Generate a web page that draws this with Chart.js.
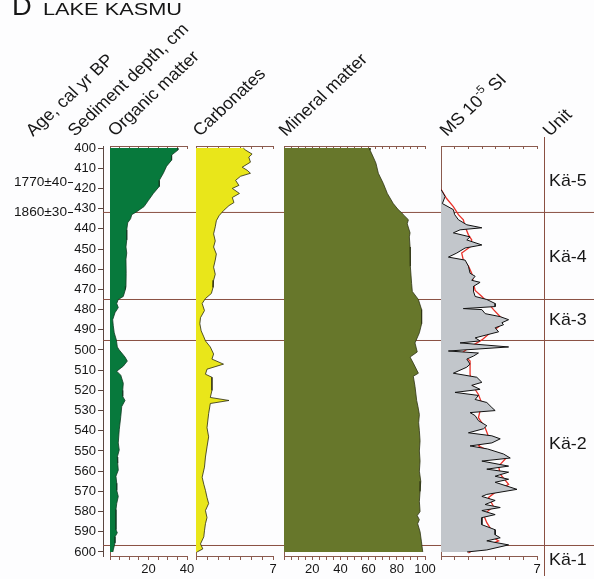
<!DOCTYPE html>
<html>
<head>
<meta charset="utf-8">
<script src="https://cdn.jsdelivr.net/npm/chart.js@4/dist/chart.umd.min.js"></script>
<style>
  html, body { margin: 0; padding: 0; background: #fdfdfe; }
  #wrap { position: relative; width: 594px; height: 579px; overflow: hidden; background: #fdfdfe; }
  #wrap canvas { position: absolute; top: 0; }
</style>
</head>
<body>
<div id="wrap">
  <canvas id="base" width="594" height="579" style="left:0"></canvas>
  <canvas id="pOrganic"></canvas>
  <canvas id="pCarbonate"></canvas>
  <canvas id="pMineral"></canvas>
  <canvas id="pMS"></canvas>
</div>
<script>
// ---- Lake Kasmu core: depth profiles (cm) ----
const depthTicks = [400, 410, 420, 430, 440, 450, 460, 470, 480, 490, 500,
                    510, 520, 530, 540, 550, 560, 570, 580, 590, 600];

const unitNames      = ['Kä-5', 'Kä-4', 'Kä-3', 'Kä-2', 'Kä-1'];
const unitMidDepths  = [416, 453.5, 485, 546, 603.5];
const unitBoundaries = [431.9, 475, 495.3, 596.8];

const ageLabels = ['1770±40', '1860±30'];
const ageDepths = [417, 431.5];

// Organic matter, %
const organicDepth = [400, 401, 403.5, 406, 409, 412.5, 416, 419, 422.5, 426, 429, 431.5, 433, 435, 437,
  440.5, 445.5, 449, 452, 455, 462, 468.5, 470, 473.5, 475, 477, 479, 481.5, 485, 488, 491.5, 495,
  498.5, 500, 501.5, 503.5, 505.5, 508, 510.5, 512.5, 516.5, 520, 523, 525, 528, 533, 539.5, 546,
  549.5, 553, 556, 559.5, 562.5, 566, 569.5, 572.5, 576, 579, 586, 589, 590.5, 592.5, 595.5, 599, 600];
const organicPct = [35, 35.3, 32, 32, 29.4, 27.7, 25.6, 25.6, 22.5, 19.9, 17.7, 13.9, 11.3, 10.7, 9.2,
  8.7, 8.7, 8.3, 8.7, 8.3, 8.4, 8.3, 8.0, 6.9, 4.3, 3.5, 4.3, 2.6, 1.4, 1.7, 2.2, 3.3,
  3.8, 4.8, 6.1, 7.8, 9.0, 6.9, 3.5, 5.6, 6.9, 6.6, 6.6, 7.8, 6.1, 5.6, 4.8, 4.3,
  4.8, 3.8, 4.0, 4.3, 3.1, 3.5, 3.5, 4.3, 3.5, 3.1, 3.1, 3.1, 3.8, 2.6, 2.6, 1.7, 1.5];

// Carbonates, %
const carbDepth = [400, 401, 403, 404.5, 407, 409.5, 411, 412.5, 414, 416, 418.5, 420, 422.5, 424.5,
  427, 428.5, 431, 433.5, 436, 439, 442.5, 446, 449, 452.5, 455.5, 459, 462.5, 465.5, 469, 472, 474.5,
  477, 480.5, 484, 487, 490.5, 493.5, 495.5, 498.5, 502, 504.5, 507, 509.5, 512, 513.5, 520, 523.5,
  525, 526.5, 531.5, 538.5, 543, 548, 553, 558, 563, 566.5, 569.5, 573, 576, 579.5, 583, 586, 589.5,
  592.5, 596, 598.5, 600];
const carbPct = [4.3, 4.5, 5.1, 4.8, 4.95, 4.2, 4.65, 4.95, 4.05, 3.6, 3.9, 3.3, 3.95, 3.3,
  3.45, 3.0, 2.5, 2.1, 1.85, 1.75, 1.6, 1.75, 1.6, 1.85, 1.75, 1.6, 1.75, 1.6, 1.55, 1.4, 0.86,
  0.56, 0.77, 0.41, 0.35, 0.47, 0.71, 0.86, 1.3, 1.6, 1.45, 2.5, 1.0, 0.86, 1.45, 1.45, 1.3,
  3.0, 1.3, 1.15, 1.0, 1.15, 1.0, 0.86, 0.77, 0.56, 0.71, 0.86, 1.0, 1.15, 0.86, 1.0, 0.86, 0.77,
  0.71, 0.41, 0.62, 0.1];

// Mineral matter, %
const mineralDepth = [400, 401, 404.5, 407.5, 412.5, 417.5, 422.5, 427.5, 430.5, 432, 433, 435.5,
  437.5, 442, 444, 449, 450.5, 458.5, 467, 471, 475, 480, 487, 491.5, 496.5, 501, 503.5, 506.5,
  511.5, 513, 518, 525, 528, 532, 536, 540, 545, 550, 555, 560, 565, 570, 575, 580, 582, 584, 586,
  590, 595, 600];
const mineralPct = [61, 61, 63.3, 65.2, 66.9, 70.4, 73.3, 77.5, 81, 83.4, 84.6, 88.2,
  87.4, 89.4, 88.9, 89.4, 89.8, 89.4, 90.5, 91, 95.3, 97.6, 97.6, 96, 92.9, 94.5, 89.4, 91.7,
  95.3, 91.7, 92.9, 94.1, 95, 96, 95.5, 96, 96.5, 96, 96.5, 96, 97, 96.5, 96, 96.5, 94.5, 96, 94.8,
  96.5, 97.5, 98.4];

// Magnetic susceptibility, 10^-5 SI (measured)
const msDepth = [420.5, 424, 427.5, 430.5, 433, 435.5, 438, 439.5, 440.5, 442, 444, 445.5, 448, 449.5,
  452, 454, 455.5, 458.5, 462, 463.5, 465.5, 466.5, 468.5, 471, 473.5, 475, 477, 478.5, 479.5, 480,
  482, 483.5, 485, 486.5, 487.5, 489, 491, 492.5, 494, 495.5, 496.5, 498.5, 500.5, 501.5, 503, 504.5,
  507, 508.5, 511.5, 513.5, 516, 517.5, 519.5, 521, 522.5, 524.5, 526, 528.5, 530, 531, 532.5, 535,
  537.5, 539, 541, 542.5, 544, 546, 547.5, 549, 551.5, 553.5, 555, 557.5, 559, 560.5, 562.5, 564,
  565.5, 569, 571.5, 572.5, 574.5, 576.5, 578, 579.5, 581.5, 583, 586.5, 589, 591.5, 593, 594.5,
  596.5, 599, 600];
const msValue = [0, 0.3, 0.1, 0.9, 1.0, 1.27, 1.88, 2.98, 1.39, 0.9, 2.12, 1.88, 2.98, 1.76,
  1.15, 0.54, 1.76, 2.0, 2.12, 2.49, 2.24, 2.85, 2.37, 2.37, 2.49, 3.34, 3.95, 3.95, 1.63, 2.98,
  3.22, 4.32, 4.93, 4.44, 4.56, 3.95, 4.2, 3.34, 2.49, 2.85, 1.39, 4.93, 0.54, 2.73, 2.37, 1.88,
  2.12, 1.88, 0.9, 2.61, 2.98, 2.24, 2.85, 1.02, 2.73, 2.49, 3.34, 3.71, 3.95, 2.12, 2.49, 2.73,
  3.34, 3.1, 2.0, 3.71, 4.32, 3.71, 2.12, 3.4, 4.56, 5.05, 2.98, 4.93, 3.34, 4.93, 3.95, 4.93,
  3.95, 5.54, 3.34, 2.98, 3.95, 3.22, 4.32, 2.98, 3.95, 2.98, 2.98, 3.95, 3.95, 4.32, 3.34,
  4.93, 3.34, 1.9];

// Magnetic susceptibility, smoothed curve
const msSmoothDepth = [420.5, 425, 429, 433, 435.5, 439, 443, 445.5, 449, 452, 455.5, 458.5, 462, 467,
  470.5, 473.5, 476, 480, 483.5, 485, 488.5, 491.5, 495, 498.5, 501.5, 505.5, 512, 517, 522, 526.5,
  533.5, 538.5, 543, 547.5, 551.5, 554, 557.5, 561.5, 566.5, 570.5, 573, 577.5, 581.5, 585.5, 589.5,
  593, 594.5, 597, 599, 600.5];
const msSmoothValue = [0, 0.41, 0.9, 1.27, 1.63, 1.76, 2.0, 2.24, 2.12, 1.51, 1.63, 2.0, 2.24, 2.37,
  2.49, 2.98, 3.34, 3.83, 4.32, 4.56, 4.2, 3.59, 2.98, 2.12, 1.51, 2.12, 2.12, 2.24, 2.73, 2.98,
  2.73, 3.22, 3.47, 2.73, 3.95, 4.69, 4.2, 4.32, 4.93, 3.95, 3.47, 3.83, 3.1, 3.34, 3.71,
  3.83, 4.2, 3.34, 2.37, 2.0];

// Axis labels shown on each panel's scale
const organicAxisLabels = [20, 40];
const carbAxisLabels    = [7];
const mineralAxisLabels = [20, 40, 60, 80, 100];
const msAxisLabels      = [7];

// ---- layout & styling ----
const FONT = '"Liberation Sans", Arial, Helvetica, sans-serif';
const AXIS = '#8a5a4e';
const RULE = '#8a5042';
const INK = '#161616';
const W = 594, H = 579;
const TOP = 146, BOTTOM = 556;
const Y_MIN = 399, Y_MAX = 602;

const boxes = {
  organic:   [110, 187],
  carbonate: [195.5, 272.5],
  mineral:   [284, 425],
  ms:        [441, 537]
};

const toPoints = (d, v) => d.map((y, i) => ({ x: v[i], y }));

function stretchText(ctx, str, x, y, sx) {
  ctx.save();
  ctx.translate(x, y);
  ctx.scale(sx, 1);
  ctx.fillText(str, 0, 0);
  ctx.restore();
}

function slanted(ctx, parts, x, y) {
  ctx.save();
  ctx.translate(x, y);
  ctx.scale(1.07, 1);
  ctx.rotate(-Math.PI / 4);
  let cx = 0;
  for (const p of parts) {
    ctx.font = p.size + 'px ' + FONT;
    ctx.fillText(p.t, cx, p.dy || 0);
    cx += ctx.measureText(p.t).width;
  }
  ctx.restore();
}

const annotations = {
  id: 'annotations',
  afterDraw(chart) {
    const ctx = chart.ctx;
    const ys = chart.scales.y;
    ctx.save();
    ctx.fillStyle = INK;
    ctx.textAlign = 'left';
    ctx.textBaseline = 'alphabetic';

    // title
    ctx.font = '26px ' + FONT;
    stretchText(ctx, 'D', 12, 15, 1.05);
    ctx.font = '16px ' + FONT;
    const tw = ctx.measureText('LAKE KASMU').width;
    stretchText(ctx, 'LAKE KASMU', 43, 15, 139 / tw);

    // column headers
    slanted(ctx, [{ t: 'Age, cal yr BP', size: 17 }], 33, 137);
    slanted(ctx, [{ t: 'Sediment depth, cm', size: 17 }], 75, 137);
    slanted(ctx, [{ t: 'Organic matter', size: 17 }], 115, 137);
    slanted(ctx, [{ t: 'Carbonates', size: 17 }], 200, 137);
    slanted(ctx, [{ t: 'Mineral matter', size: 17 }], 286, 137);
    slanted(ctx, [{ t: 'MS 10', size: 17 }, { t: '-5', size: 11, dy: -8 }, { t: ' SI', size: 17 }], 447, 137);
    slanted(ctx, [{ t: 'Unit', size: 17 }], 550, 137);

    // radiocarbon ages
    ctx.font = '13px ' + FONT;
    ctx.textAlign = 'right';
    ctx.textBaseline = 'middle';
    ctx.strokeStyle = INK;
    ctx.lineWidth = 1;
    ageLabels.forEach((lab, i) => {
      const py = Math.round(ys.getPixelForValue(ageDepths[i])) + 0.5;
      stretchText(ctx, lab, 67, py, 1.05);
      ctx.beginPath();
      ctx.moveTo(68, py);
      ctx.lineTo(73, py);
      ctx.stroke();
    });

    // unit column
    ctx.strokeStyle = RULE;
    ctx.beginPath();
    ctx.moveTo(544.5, 137);
    ctx.lineTo(544.5, 576);
    ctx.stroke();
    ctx.textAlign = 'left';
    ctx.font = '17px ' + FONT;
    unitNames.forEach((name, i) => {
      stretchText(ctx, name, 549, ys.getPixelForValue(unitMidDepths[i]) + 1, 1.05);
    });
    ctx.restore();
  }
};

// Depth axis and unit boundaries
new Chart(document.getElementById('base'), {
  type: 'scatter',
  data: {
    datasets: unitBoundaries.map(d => ({
      data: [{ x: 0, y: d }, { x: 1, y: d }],
      showLine: true,
      borderColor: RULE,
      borderWidth: 1,
      pointRadius: 0
    }))
  },
  options: {
    responsive: false,
    animation: false,
    events: [],
    layout: { padding: { top: TOP, bottom: H - BOTTOM, left: 0, right: 0 } },
    plugins: { legend: { display: false }, tooltip: { enabled: false } },
    scales: {
      x: { type: 'linear', min: 0, max: 1, display: false },
      y: {
        type: 'linear', position: 'left', min: Y_MIN, max: Y_MAX, reverse: true,
        afterBuildTicks: s => { s.ticks = depthTicks.map(v => ({ value: v })); },
        afterFit: s => { s.width = 103; },
        ticks: { autoSkip: false, padding: 2, color: INK, font: { family: FONT, size: 13 } },
        grid: { drawOnChartArea: false, tickLength: 5, color: '#5a4640' },
        border: { color: '#5a4640' }
      }
    }
  },
  plugins: [annotations]
});

function panelChart(id, box, max, minorStep, labelled, datasets) {
  const PAD = 16;
  const cv = document.getElementById(id);
  cv.width = Math.round(box[1] - box[0] + 2 * PAD);
  cv.height = H;
  cv.style.left = (box[0] - PAD) + 'px';
  const minor = [];
  for (let v = 0; v <= max + 1e-6; v += minorStep) minor.push(v);
  const setTicks = s => { s.ticks = minor.map(v => ({ value: v })); };
  return new Chart(cv, {
    type: 'line',
    data: { datasets },
    options: {
      indexAxis: 'y',
      responsive: false,
      animation: false,
      events: [],
      layout: { padding: { left: PAD, right: cv.width - PAD - (box[1] - box[0]), top: TOP, bottom: 0 } },
      plugins: { legend: { display: false }, tooltip: { enabled: false } },
      elements: { point: { radius: 0 }, line: { tension: 0 } },
      scales: {
        x: {
          type: 'linear', position: 'bottom', min: 0, max,
          afterBuildTicks: setTicks,
          afterFit: s => { s.height = H - BOTTOM; },
          ticks: {
            autoSkip: false, maxRotation: 0, padding: 2, color: INK,
            font: { family: FONT, size: 13 },
            callback: v => (labelled.includes(v) ? String(v) : '')
          },
          grid: { drawOnChartArea: false, tickLength: 4, color: AXIS },
          border: { color: AXIS }
        },
        xTop: {
          type: 'linear', axis: 'x', position: 'top', min: 0, max,
          afterBuildTicks: setTicks,
          afterFit: s => { s.height = 0; },
          ticks: { display: false },
          grid: { drawOnChartArea: false, tickLength: -3, color: AXIS },
          border: { color: AXIS }
        },
        y: {
          type: 'linear', position: 'left', min: Y_MIN, max: Y_MAX, reverse: true,
          afterFit: s => { s.width = 0; },
          ticks: { display: false },
          grid: { drawOnChartArea: false, drawTicks: false },
          border: { color: AXIS }
        }
      }
    }
  });
}

panelChart('pOrganic', boxes.organic, 40, 5, organicAxisLabels, [{
  data: toPoints(organicDepth, organicPct), xAxisID: 'x', yAxisID: 'y',
  fill: 'origin', backgroundColor: '#07793c', borderColor: '#103a22', borderWidth: 0.8
}]);

panelChart('pCarbonate', boxes.carbonate, 7, 1, carbAxisLabels, [{
  data: toPoints(carbDepth, carbPct), xAxisID: 'x', yAxisID: 'y',
  fill: 'origin', backgroundColor: '#e9e61a', borderColor: '#2a2a10', borderWidth: 0.8
}]);

panelChart('pMineral', boxes.mineral, 100, 5, mineralAxisLabels, [{
  data: toPoints(mineralDepth, mineralPct), xAxisID: 'x', yAxisID: 'y',
  fill: 'origin', backgroundColor: '#67772b', borderColor: '#2e3414', borderWidth: 0.8
}]);

panelChart('pMS', boxes.ms, 7, 1, msAxisLabels, [
  {
    data: toPoints(msDepth, msValue), xAxisID: 'x', yAxisID: 'y',
    fill: 'origin', backgroundColor: '#c2c6cb', borderColor: '#111111', borderWidth: 1
  },
  {
    data: toPoints(msSmoothDepth, msSmoothValue), xAxisID: 'x', yAxisID: 'y',
    fill: false, borderColor: '#e8322a', borderWidth: 1.3
  }
]);
</script>
</body>
</html>
